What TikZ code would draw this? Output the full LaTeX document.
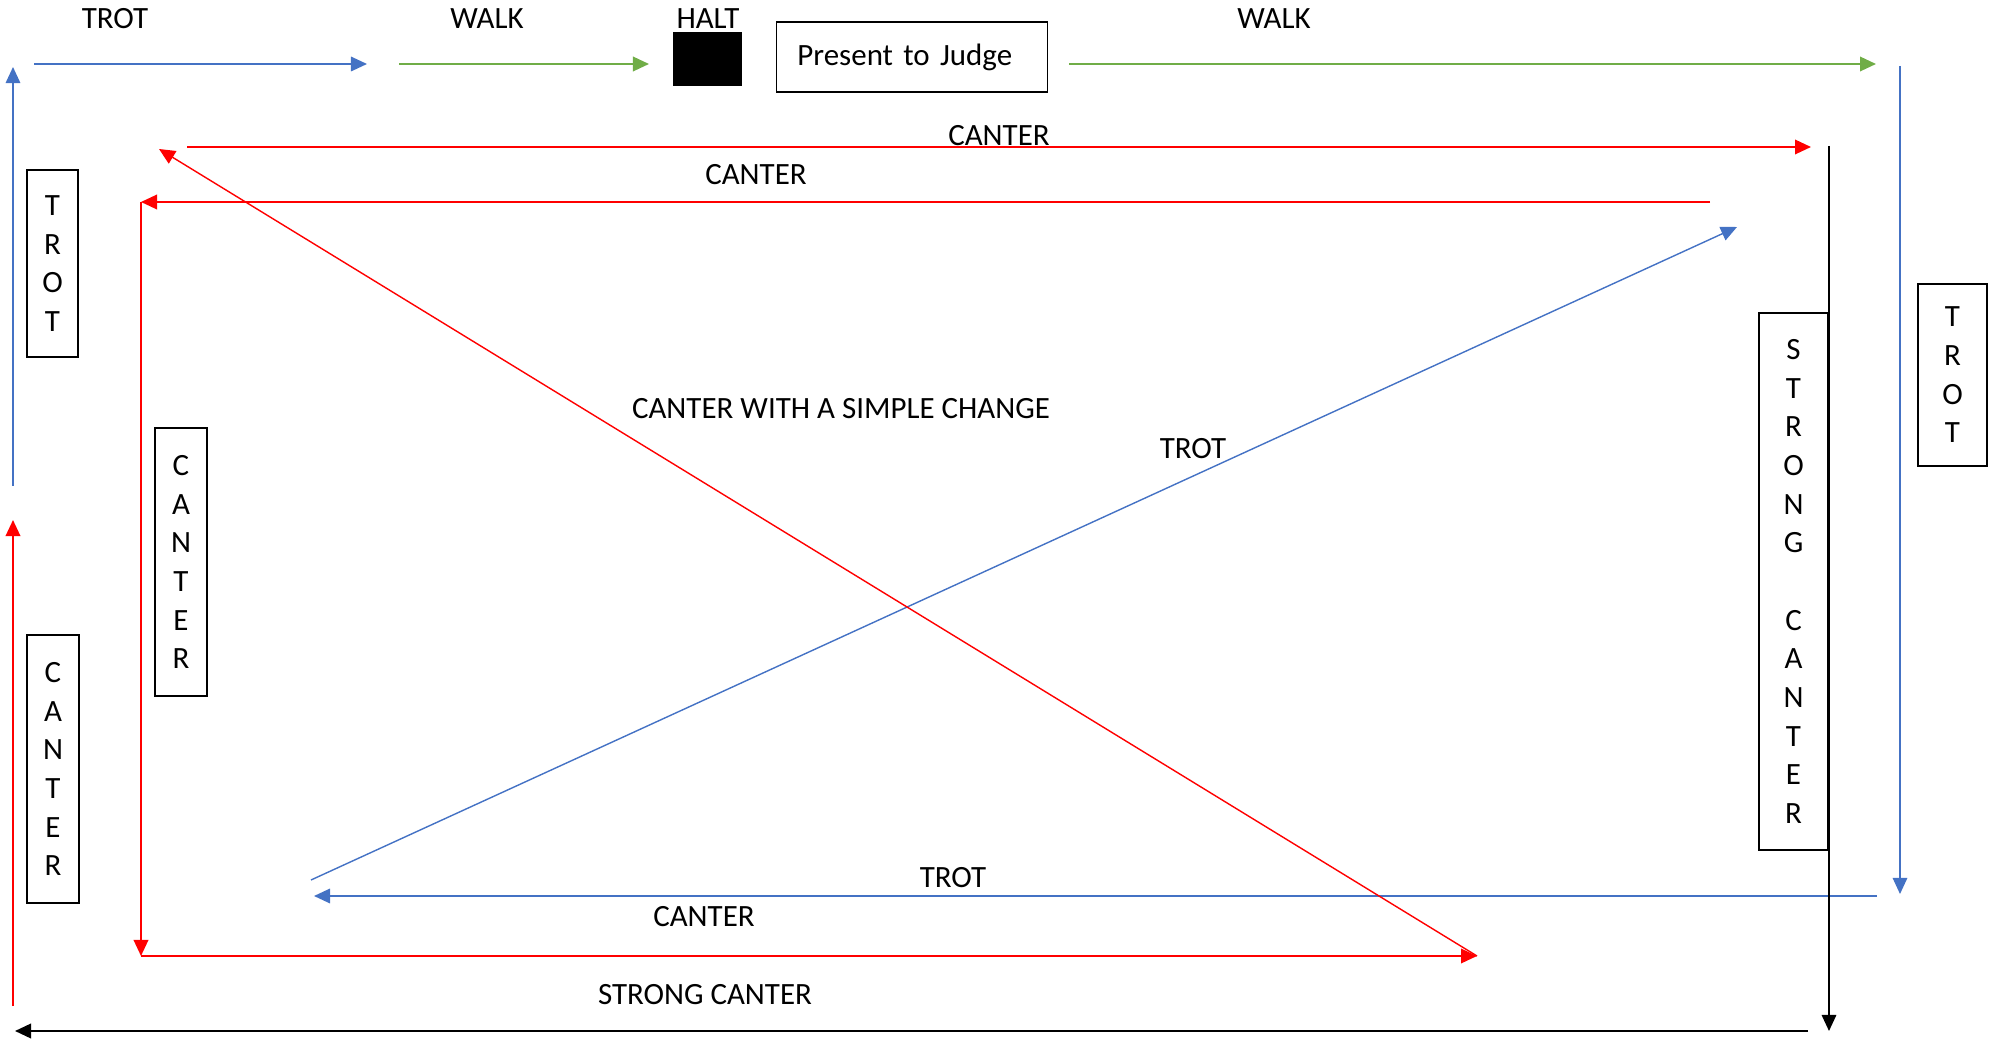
\documentclass[tikz,border=0pt]{standalone}
\usepackage{fontspec}
\setmainfont{Carlito}
\usetikzlibrary{positioning}
\usetikzlibrary{arrows.meta}

\definecolor{trotblue}{HTML}{4472C4}
\definecolor{walkgreen}{HTML}{70AD47}
\definecolor{canterred}{HTML}{FF0000}

\begin{document}
\begin{tikzpicture}[
    x=0.01cm, y=-0.01cm,
    every node/.style={font=\fontsize{8.8pt}{11pt}\selectfont, inner sep=0pt},
    gaitbox/.style={draw, line width=0.4pt, align=center},
    gaitlabel/.style={text=black},
    tip/.style={-{Triangle[length=1.6mm, width=1.45mm]}},
    trotline/.style={tip, draw=trotblue, line width=0.5pt},
    walkline/.style={tip, draw=walkgreen, line width=0.55pt},
    canterline/.style={tip, draw=canterred, line width=0.55pt},
    strongline/.style={tip, draw=black, line width=0.45pt},
]
    \useasboundingbox (0,0) rectangle (1999,1040);

    %node
    \node[gaitlabel] (trottop) at (115,19) {TROT};
    \node[gaitlabel] (walkone) at (487,19) {WALK};
    \node[gaitlabel] (halttxt) at (708,19) {HALT};
    \node[fill=black, minimum width=0.69cm, minimum height=0.53cm] (halt) at (707.5,59) {};
    \node[draw, line width=0.4pt, inner xsep=0.21cm, text width=2.29cm, align=left, minimum height=0.70cm] (judge) at (912,57) {Present to Judge};
    \node[gaitlabel] (walktwo) at (1274,19) {WALK};
    \node[gaitlabel] (cantone) at (999,136) {CANTER};
    \node[gaitlabel] (canttwo) at (756,175) {CANTER};
    \node[gaitlabel] (simple) at (841,409) {CANTER WITH A SIMPLE CHANGE};
    \node[gaitlabel] (trotmid) at (1193,449) {TROT};
    \node[gaitlabel] (trotlow) at (953,878) {TROT};
    \node[gaitlabel] (cantlow) at (704,917) {CANTER};
    \node[gaitlabel] (strlow) at (705,995) {STRONG CANTER};
    \node[gaitbox, minimum width=0.51cm, minimum height=1.87cm] (trotL) at (52.5,263.5) {T\\R\\O\\T};
    \node[gaitbox, minimum width=0.52cm, minimum height=2.68cm] (cantL) at (53,769) {C\\A\\N\\T\\E\\R};
    \node[gaitbox, minimum width=0.52cm, minimum height=2.68cm] (cantI) at (181,562) {C\\A\\N\\T\\E\\R};
    \node[gaitbox, minimum width=0.69cm, minimum height=5.37cm] (strong) at (1793.5,581.5) {S\\T\\R\\O\\N\\G\\[11pt]C\\A\\N\\T\\E\\R};
    \node[gaitbox, minimum width=0.69cm, minimum height=1.82cm] (trotR) at (1952.5,375) {T\\R\\O\\T};

    %points
    \coordinate (trotA) at (34,64);
    \coordinate (trotB) at (367,64);
    \coordinate (walkA) at (399,64);
    \coordinate (walkB) at (649,64);
    \coordinate (walkC) at (1069,64);
    \coordinate (walkD) at (1876,64);
    \coordinate (trotC) at (1900,66);
    \coordinate (trotD) at (1900,894);
    \coordinate (trotE) at (1877,896);
    \coordinate (trotF) at (314,896);
    \coordinate (trotG) at (311,880);
    \coordinate (trotH) at (1737,227);
    \coordinate (trotI) at (13,486);
    \coordinate (trotJ) at (13,67);
    \coordinate (cantA) at (187,147);
    \coordinate (cantB) at (1811,147);
    \coordinate (cantC) at (1710,202);
    \coordinate (cantD) at (141,202);
    \coordinate (cantE) at (141,956);
    \coordinate (cantF) at (1477,956);
    \coordinate (cantG) at (159,149);
    \coordinate (cantH) at (13,1006);
    \coordinate (cantI) at (13,520);
    \coordinate (strA) at (1829,146);
    \coordinate (strB) at (1829,1031);
    \coordinate (strC) at (1808,1031);
    \coordinate (strD) at (15,1031);

    %lines
    \draw[trotline] (trotA) -- (trotB);
    \draw[walkline] (walkA) -- (walkB);
    \draw[walkline] (walkC) -- (walkD);
    \draw[trotline, line width=0.35pt] (trotC) -- (trotD);
    \draw[trotline] (trotE) -- (trotF);
    \draw[trotline, line width=0.4pt] (trotG) -- (trotH);
    \draw[trotline, line width=0.4pt] (trotI) -- (trotJ);
    \draw[canterline] (cantA) -- (cantB);
    \draw[canterline] (cantC) -- (cantD);
    \draw[canterline] (cantD) -- (cantE);
    \draw[canterline] (cantE) -- (cantF);
    \draw[canterline, line width=0.4pt] (cantF) -- (cantG);
    \draw[canterline] (cantH) -- (cantI);
    \draw[strongline] (strA) -- (strB);
    \draw[strongline, line width=0.6pt] (strC) -- (strD);
\end{tikzpicture}
\end{document}
